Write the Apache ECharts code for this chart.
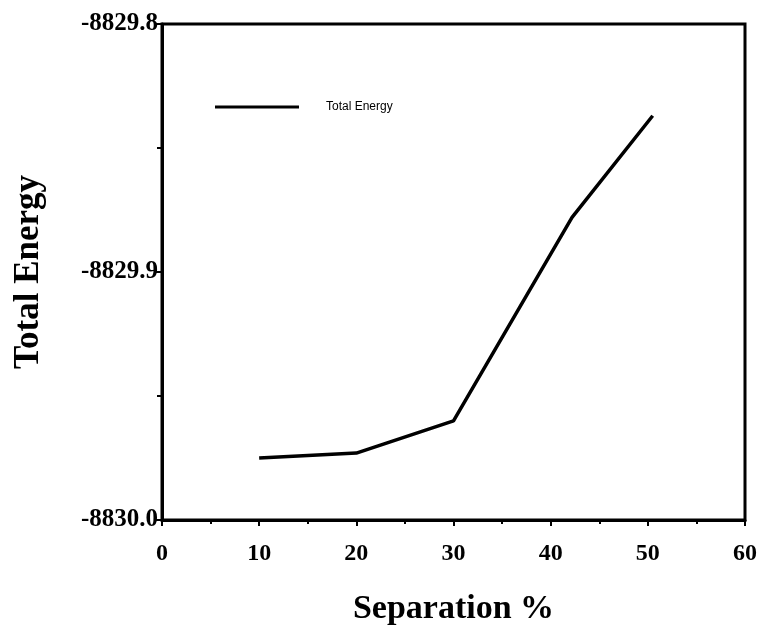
<!DOCTYPE html>
<html>
<head>
<meta charset="utf-8">
<script src="https://cdn.jsdelivr.net/npm/echarts@6/dist/echarts.min.js"></script>
<style>
html,body{margin:0;padding:0;background:#fff;}
#chartDiv{width:765px;height:638px;}
</style>
</head>
<body>
<div id="chartDiv"></div>
<script>
// values
var separation = [10, 20, 30, 42.2, 50.5];
var totalEnergy = [-8829.975, -8829.973, -8829.960, -8829.878, -8829.837];
var seriesName = 'Total Energy';
var xTicks = [0, 10, 20, 30, 40, 50, 60];
var yTicks = [-8830.0, -8829.9, -8829.8];

var chart = echarts.init(document.getElementById('chartDiv'));

var pts = [];
for (var i = 0; i < separation.length; i++) {
	pts.push([separation[i], totalEnergy[i]]);
}

var serif = '"Liberation Serif", "DejaVu Serif", serif';

chart.setOption({
	animation: false,
	backgroundColor: '#fff',
	grid: {
		left: 162, right: 20, top: 24, bottom: 118,
		show: true, borderColor: '#000', borderWidth: 3, backgroundColor: 'transparent'
	},
	legend: {
		left: 210, top: 96,
		icon: 'rect', itemWidth: 84, itemHeight: 3, itemGap: 10,
		textStyle: {fontFamily: '"Liberation Sans", Arial, sans-serif', fontSize: 12, color: '#000', padding: [8, 0, 0, 22]},
		data: [seriesName]
	},
	xAxis: {
		type: 'value', min: xTicks[0], max: xTicks[xTicks.length - 1], interval: 10,
		name: 'Separation %', nameLocation: 'middle', nameGap: 72,
		nameTextStyle: {fontFamily: serif, fontWeight: 'bold', fontSize: 34, color: '#000'},
		axisLine: {show: true, onZero: false, lineStyle: {color: '#000', width: 3}},
		axisTick: {show: true, length: 6, lineStyle: {color: '#000', width: 2}},
		minorTick: {show: true, splitNumber: 2, length: 4, lineStyle: {color: '#000', width: 2}},
		splitLine: {show: false},
		axisLabel: {fontFamily: serif, fontWeight: 'bold', fontSize: 24, color: '#000', margin: 22}
	},
	yAxis: {
		type: 'value', min: yTicks[0], max: yTicks[yTicks.length - 1], interval: 0.1,
		name: seriesName, nameLocation: 'middle', nameGap: 116,
		nameTextStyle: {fontFamily: serif, fontWeight: 'bold', fontSize: 35, color: '#000'},
		axisLine: {show: true, onZero: false, lineStyle: {color: '#000', width: 3}},
		axisTick: {show: true, length: 7, lineStyle: {color: '#000', width: 2}},
		minorTick: {show: true, splitNumber: 2, length: 5, lineStyle: {color: '#000', width: 2}},
		splitLine: {show: false},
		axisLabel: {
			fontFamily: serif, fontWeight: 'bold', fontSize: 25, color: '#000', margin: 4,
			formatter: function (v) { return v.toFixed(1); }
		}
	},
	series: [{
		name: seriesName,
		type: 'line',
		data: pts,
		showSymbol: false,
		symbol: 'none',
		lineStyle: {color: '#000', width: 3.5},
		itemStyle: {color: '#000'}
	}]
});
</script>
</body>
</html>
